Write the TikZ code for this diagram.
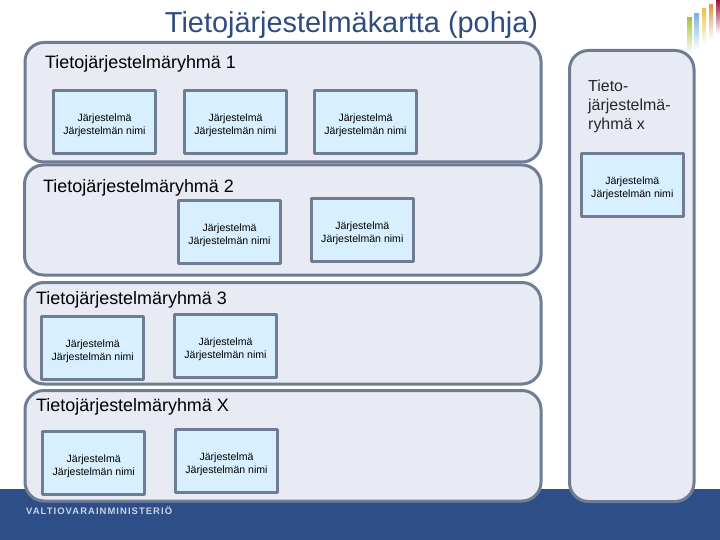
\documentclass[tikz,border=0pt]{standalone}
\usepackage{fontspec}
\setmainfont{Liberation Sans}
\definecolor{bandblue}{HTML}{2E4E87}
\definecolor{titleblue}{HTML}{2F4C7E}
\definecolor{edgegray}{HTML}{6F7D94}
\definecolor{groupfill}{HTML}{E8EBF3}
\definecolor{sysfill}{HTML}{D7EFFE}
\definecolor{bargreen}{HTML}{A9C23F}
\definecolor{barblue}{HTML}{7FB2DA}
\definecolor{baryellow}{HTML}{F0C24A}
\definecolor{barorange}{HTML}{E0954A}
\definecolor{barred}{HTML}{A01040}
\tikzset{
  groupbox/.style={draw=edgegray,fill=groupfill,line width=3bp,rounded corners=19bp},
  sysbox/.style={rectangle,draw=edgegray,fill=sysfill,line width=3bp,inner sep=0pt,
    minimum width=101.5bp,minimum height=63bp,align=center,text=black,
    font=\fontsize{10.6}{13}\selectfont},
  grouplabel/.style={anchor=west,inner sep=0pt,text=black,font=\fontsize{18}{21}\selectfont},
  fadebar/.style={top color=#1,bottom color=white,draw=none},
}
\newcommand{\sysname}{\rule{0pt}{14bp}Järjestelmä\\Järjestelmän nimi}
\begin{document}
\begin{tikzpicture}[x=1bp,y=-1bp,line join=round]
  \useasboundingbox (0,0) rectangle (720,540);
  % band and logo
  \fill[bandblue] (0,489) rectangle (720,540);
  \shade[fadebar=bargreen] (687,18) rectangle (692,54);
  \shade[fadebar=barblue] (694,14) rectangle (699,50);
  \shade[fadebar=baryellow] (702,9) rectangle (706,45);
  \shade[fadebar=barorange] (709,5) rectangle (713,40);
  \shade[fadebar=barred] (716,0) rectangle (720,34);
  \node[anchor=west,inner sep=0pt,text=white!75!bandblue,font=\fontsize{9.5}{11}\selectfont\bfseries] (logo) at (26,510.5)
    {\addfontfeature{LetterSpace=11}VALTIOVARAINMINISTERIÖ};
  \node[text=titleblue,inner sep=0pt,font=\fontsize{29}{33}\selectfont] (title) at (351.5,25) {Tietojärjestelmäkartta (pohja)};
  % groups
  \draw[groupbox] (25,42.5) rectangle (541,162);
  \draw[groupbox] (24.5,165) rectangle (541,275);
  \draw[groupbox] (25,282.5) rectangle (541,384);
  \draw[groupbox] (25,390.5) rectangle (541,501);
  \draw[groupbox] (569.5,50.5) rectangle (694,501.5);
  \node[grouplabel] (label1) at (45,63.5) {Tietojärjestelmäryhmä 1};
  \node[grouplabel] (label2) at (43,188) {Tietojärjestelmäryhmä 2};
  \node[grouplabel] (label3) at (36,299.5) {Tietojärjestelmäryhmä 3};
  \node[grouplabel] (labelx) at (36,407) {Tietojärjestelmäryhmä X};
  \node[anchor=north west,inner sep=0pt,align=left,text=black!85,font=\fontsize{16}{19}\selectfont] (labelside) at (588,80)
    {Tieto-\\järjestelmä-\\ryhmä x};
  % systems
  \node[sysbox] (sys11) at (104.5,122.3) {\sysname};
  \node[sysbox] (sys12) at (235.5,122.3) {\sysname};
  \node[sysbox] (sys13) at (365.5,122.3) {\sysname};
  \node[sysbox] (sys21) at (229.5,232.3) {\sysname};
  \node[sysbox] (sys22) at (362.3,230.3) {\sysname};
  \node[sysbox] (sys31) at (92.7,347.8) {\sysname};
  \node[sysbox] (sys32) at (225.5,346) {\sysname};
  \node[sysbox] (sysx1) at (93.7,463) {\sysname};
  \node[sysbox] (sysx2) at (226.5,461) {\sysname};
  \node[sysbox] (sysy1) at (632.3,185) {\sysname};
\end{tikzpicture}
\end{document}
